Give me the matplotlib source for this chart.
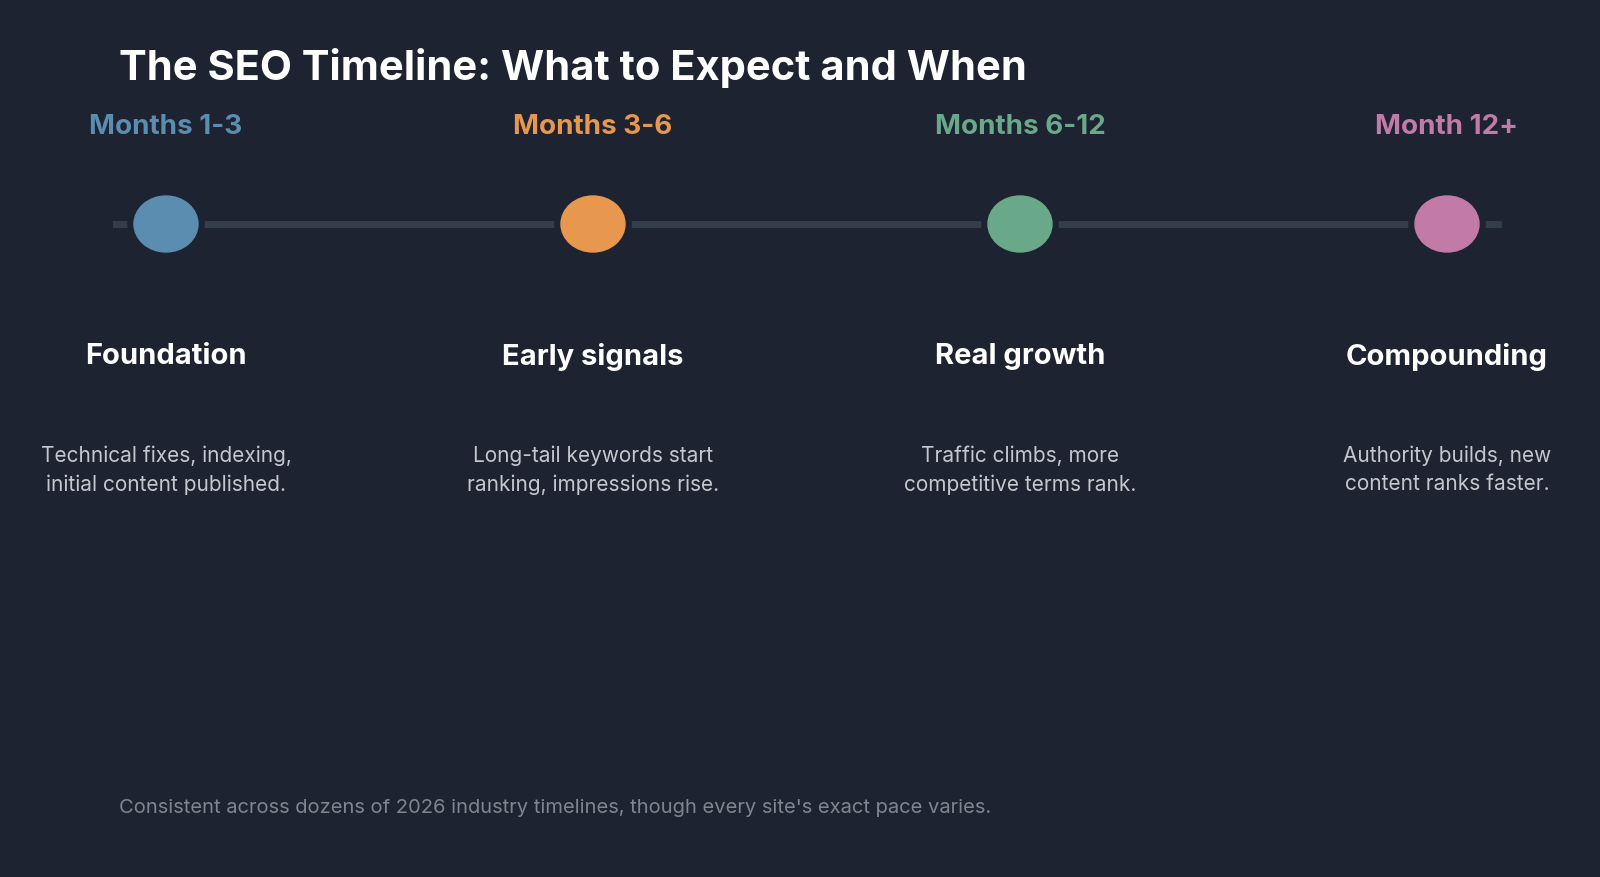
import matplotlib.pyplot as plt
from matplotlib.patches import Ellipse

# timeline data
periods = ['Months 1-3', 'Months 3-6', 'Months 6-12', 'Month 12+']
stages = ['Foundation', 'Early signals', 'Real growth', 'Compounding']
notes = ['Technical fixes, indexing,\ninitial content published.',
         'Long-tail keywords start\nranking, impressions rise.',
         'Traffic climbs, more\ncompetitive terms rank.',
         'Authority builds, new\ncontent ranks faster.']
colors = ['#5b8db0', '#e8974f', '#6aa88a', '#c27ba8']

bg = '#1d2330'
plt.rcParams['font.family'] = ['Inter', 'DejaVu Sans']

fig = plt.figure(figsize=(16, 8.77), dpi=100, facecolor=bg)
ax = fig.add_axes([0, 0, 1, 1])
ax.set_facecolor(bg)
unit = 427 / 1600
x0 = -166 / 427
ax.set_xlim(x0, x0 + 1 / unit)
ax.set_ylim(877, 0)
ax.axis('off')

px = 1 / 427  # one pixel in x data units
ax.plot([x0 + 116 * px, x0 + 1498 * px], [224, 224], color='#333d4c', lw=5, zorder=1)

for i, (p, s, n, c) in enumerate(zip(periods, stages, notes, colors)):
    ax.add_patch(Ellipse((i, 224), 76 * px, 66, color=bg, zorder=2))
    ax.add_patch(Ellipse((i, 224), 64 * px, 56, color=c, zorder=3))
    ax.text(i, 127, p, color=c, fontsize=20, fontweight='bold', ha='center', va='center')
    ax.text(i, 357, s, color='white', fontsize=21, fontweight='bold', ha='center', va='center')
    ax.text(i, 470, n, color='#c3c7ce', fontsize=15, ha='center', va='center', linespacing=1.5)

ax.text(x0 + 119 * px, 68, 'The SEO Timeline: What to Expect and When', color='white',
        fontsize=30, fontweight='bold', ha='left', va='center')
ax.text(x0 + 119 * px, 808, "Consistent across dozens of 2026 industry timelines, though every site's exact pace varies.",
        color='#80868f', fontsize=14.5, ha='left', va='center')

fig.savefig('out.png', dpi=100, facecolor=bg)
